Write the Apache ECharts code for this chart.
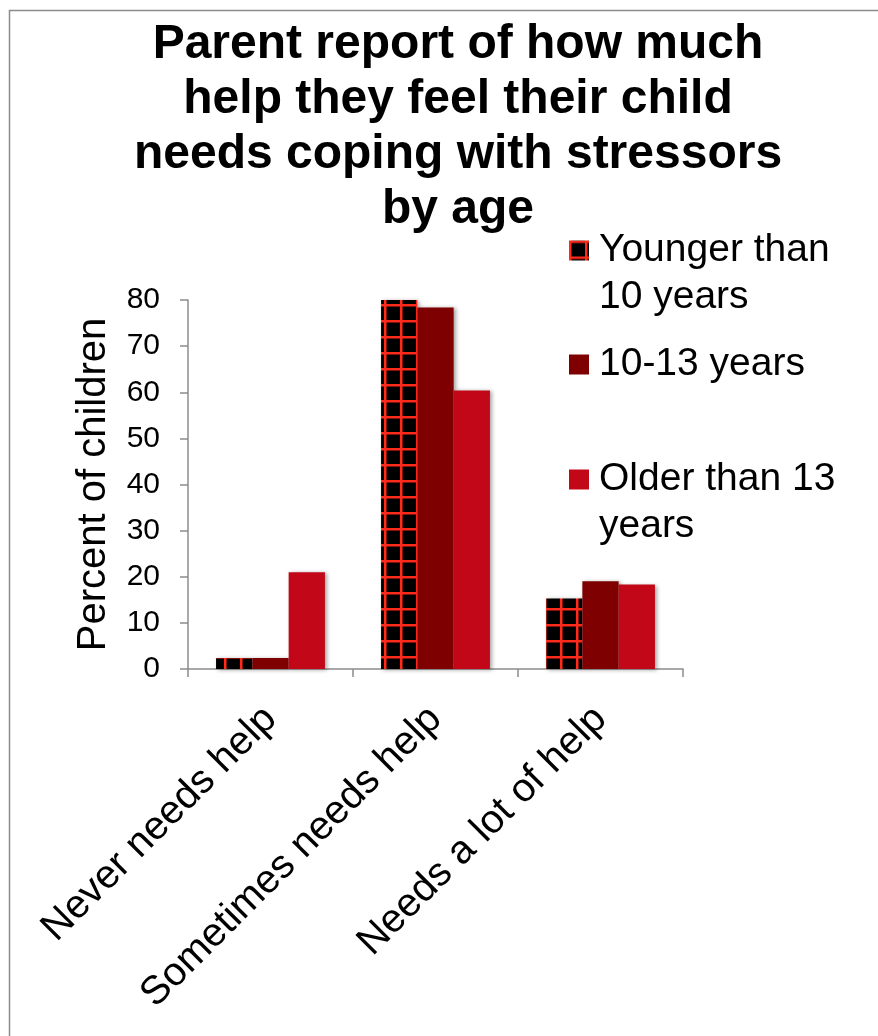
<!DOCTYPE html>
<html><head><meta charset="utf-8">
<script src="https://cdn.jsdelivr.net/npm/echarts@6/dist/echarts.min.js"></script>
<style>html,body{margin:0;padding:0;background:#fff}#c{width:878px;height:1036px}</style>
</head><body><div id="c"></div>
<script>
const categories = ['Never needs help', 'Sometimes needs help', 'Needs a lot of help'];
const seriesNames = ['Younger than 10 years', '10-13 years', 'Older than 13 years'];
const legendLabels = ['Younger than\n10 years', '10-13 years', 'Older than 13\nyears'];
const younger = [2.4, 80, 15.3];
const middle = [2.4, 78.4, 19.0];
const older = [21.0, 60.4, 18.3];
const yMin = 0, yMax = 80, yStep = 10;
const titleText = 'Parent report of how much\nhelp they feel their child\nneeds coping with stressors\nby age';
const yName = 'Percent of children';

const FONT = "'Liberation Sans', Arial, sans-serif";

// checkered pattern: black with red grid lines
const pc = document.createElement('canvas');
pc.width = 16; pc.height = 16;
const g = pc.getContext('2d');
g.fillStyle = '#000';
g.fillRect(0, 0, 16, 16);
g.fillStyle = '#ff2a1a';
g.fillRect(0, 0, 2.5, 16);
g.fillRect(0, 0, 16, 2.5);
const pattern = { image: pc, repeat: 'repeat' };

const colors = [pattern, '#7f0000', '#c20818'];
const dataSets = [younger, middle, older];

const chart = echarts.init(document.getElementById('c'), null, { renderer: 'canvas' });

const shadow = { shadowColor: 'rgba(0,0,0,0.35)', shadowBlur: 4, shadowOffsetX: 2, shadowOffsetY: 1 };

function legendFor(i, top) {
  return {
    data: [seriesNames[i]],
    left: 569, top: top, padding: 0,
    icon: 'rect', itemWidth: 20, itemHeight: 20,
    formatter: function (n) {
      const lbl = legendLabels[seriesNames.indexOf(n)];
      // leading blank line keeps the icon level with the first text line
      return lbl.indexOf('\n') >= 0 ? '\n' + lbl : lbl;
    },
    textStyle: {
      fontFamily: FONT, fontSize: 39, color: '#000', lineHeight: 47,
      padding: [0, 0, 0, 5]
    },
    selectedMode: false
  };
}

chart.setOption({
  animation: false,
  backgroundColor: '#fff',
  title: {
    text: titleText, left: 458, top: 17, padding: 0, textAlign: 'center',
    textStyle: { fontFamily: FONT, fontSize: 48, fontWeight: 'bold', color: '#000', lineHeight: 55 }
  },
  legend: [legendFor(0, 180), legendFor(1, 341), legendFor(2, 409)],
  grid: { left: 188, right: 195, top: 300, bottom: 367, containLabel: false },
  xAxis: {
    type: 'category', data: categories,
    axisLine: { lineStyle: { color: '#8c8c8c', width: 1.5 } },
    axisTick: { show: true, length: 8, lineStyle: { color: '#8c8c8c', width: 1.5 } },
    axisLabel: { rotate: 45, interval: 0, margin: 44, fontFamily: FONT, fontSize: 40, color: '#000' }
  },
  yAxis: {
    type: 'value', min: yMin, max: yMax, interval: yStep,
    name: yName, nameLocation: 'middle', nameGap: 74,
    nameTextStyle: { fontFamily: FONT, fontSize: 40, color: '#000' },
    splitLine: { show: false },
    axisLine: { show: true, lineStyle: { color: '#8c8c8c', width: 1.5 } },
    axisTick: { show: true, length: 8, lineStyle: { color: '#8c8c8c', width: 1.5 } },
    axisLabel: { margin: 28, fontFamily: FONT, fontSize: 30, color: '#000' }
  },
  series: seriesNames.map((n, i) => ({
    name: n, type: 'bar', data: dataSets[i],
    barGap: '0%', barCategoryGap: '34%',
    itemStyle: Object.assign({ color: colors[i] }, shadow)
  })),
  graphic: [{
    type: 'rect', left: 7, top: 8, silent: true,
    shape: { x: 0, y: 0, width: 900, height: 1100 },
    style: { fill: 'none', stroke: '#8c8c8c', lineWidth: 1.5 }
  }]
});
</script>
</body></html>
